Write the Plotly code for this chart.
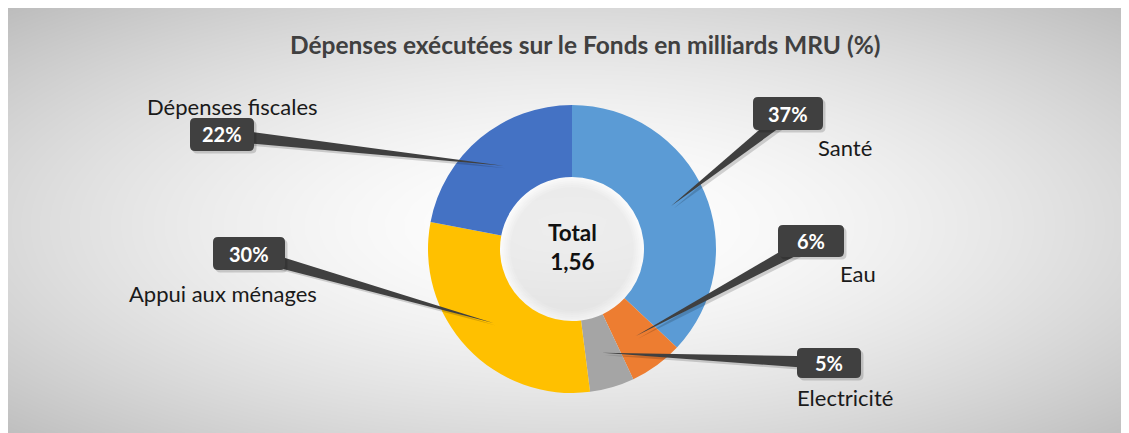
import numpy as np
import plotly.graph_objects as go

# ---------------- data ----------------
categories = ["Santé", "Eau", "Electricité", "Appui aux ménages", "Dépenses fiscales"]
shares = [37, 6, 5, 30, 22]
pct_labels = ["37%", "6%", "5%", "30%", "22%"]
total_label = "Total<br>1,56"
title_text = "Dépenses exécutées sur le Fonds en milliards MRU (%)"

# ---------------- style / layout ----------------
colors = ["#5B9BD5", "#ED7D31", "#A5A5A5", "#FFC000", "#4472C4"]
OFF = 8                      # page body margin of the html
W, H = 1129 - OFF, 433 - OFF
CX, CY, R = 572, 249, 144    # page-pixel geometry of the donut
HOLE = 0.5
FONT = "Lato"
DARK = "#404040"

# callout boxes (page pixel x0, y0, x1, y1) and category label centres
boxes = [(753, 97, 823, 130), (778, 225, 844, 257), (797, 348, 861, 378),
         (213, 237, 285, 270), (190, 118, 254, 151)]
name_pos = [(845, 148), (858, 273), (845, 397), (223, 293), (232, 107)]


def px(x):
    return (x - OFF) / W


def py(y):
    return 1 - (y - OFF) / H


def rrect(x0, y0, x1, y1, r=5):
    pts = [
        f"M{px(x0 + r)},{py(y0)}", f"L{px(x1 - r)},{py(y0)}",
        f"Q{px(x1)},{py(y0)} {px(x1)},{py(y0 + r)}", f"L{px(x1)},{py(y1 - r)}",
        f"Q{px(x1)},{py(y1)} {px(x1 - r)},{py(y1)}", f"L{px(x0 + r)},{py(y1)}",
        f"Q{px(x0)},{py(y1)} {px(x0)},{py(y1 - r)}", f"L{px(x0)},{py(y0 + r)}",
        f"Q{px(x0)},{py(y0)} {px(x0 + r)},{py(y0)}", "Z",
    ]
    return " ".join(pts)


fig = go.Figure()

# background radial gradient panel
gx = np.linspace(OFF, 1129 + 12, 74)
gy = np.linspace(OFF, 433 + 12, 32)
XX, YY = np.meshgrid(gx, gy)
t = np.sqrt(((XX - 572) / 565) ** 2 + ((YY - 225) / 215) ** 2) / np.sqrt(2)
zz = np.clip(t, 0, 1.05) ** 1.6
fig.add_trace(go.Heatmap(x=gx, y=gy, z=zz, zmin=0, zmax=1, zsmooth="best",
                         colorscale=[[0, "#ffffff"], [1, "#bdbdbd"]],
                         showscale=False, hoverinfo="skip"))

# donut
fig.add_trace(go.Pie(
    labels=categories, values=shares, hole=HOLE, sort=False,
    direction="clockwise", rotation=0,
    marker=dict(colors=colors, line=dict(width=0)),
    textinfo="none", hoverinfo="label+percent", showlegend=False,
    domain=dict(x=[px(CX - R), px(CX + R)], y=[py(CY + R), py(CY - R)]),
))

shapes = []
annotations = []

# soft inner shadow in the hole
for k in range(6):
    rr = R * HOLE - k * 2.0
    shapes.append(dict(type="circle", xref="paper", yref="paper", layer="above",
                       x0=px(CX - rr), x1=px(CX + rr), y0=py(CY + rr), y1=py(CY - rr),
                       fillcolor="rgba(0,0,0,0.012)", line=dict(width=0)))

# callouts
total = sum(shares)
cum = 0
rm = R * (1 + HOLE) / 2
for i, v in enumerate(shares):
    mid = (cum + v / 2) / total
    cum += v
    a = 2 * np.pi * mid
    tx, ty = CX + rm * np.sin(a), CY - rm * np.cos(a)
    x0, y0, x1, y1 = boxes[i]
    bx, by = (x0 + x1) / 2, (y0 + y1) / 2
    dx, dy = tx - bx, ty - by
    L = np.hypot(dx, dy)
    nx, ny = -dy / L * 6.5, dx / L * 6.5
    for off, col in [(2.5, "rgba(0,0,0,0.16)"), (0, DARK)]:
        path = (f"M{px(bx + nx + off)},{py(by + ny + off)} L{px(tx + off)},{py(ty + off)} "
                f"L{px(bx - nx + off)},{py(by - ny + off)} Z")
        shapes.append(dict(type="path", xref="paper", yref="paper", layer="above",
                           path=path, fillcolor=col, line=dict(width=0)))
    shapes.append(dict(type="path", xref="paper", yref="paper", layer="above",
                       path=rrect(x0 + 2.5, y0 + 2.5, x1 + 2.5, y1 + 2.5),
                       fillcolor="rgba(0,0,0,0.16)", line=dict(width=0)))
    shapes.append(dict(type="path", xref="paper", yref="paper", layer="above",
                       path=rrect(x0, y0, x1, y1), fillcolor=DARK, line=dict(width=0)))
    annotations.append(dict(x=px(bx), y=py(by), xref="paper", yref="paper",
                            text=f"<b>{pct_labels[i]}</b>", showarrow=False,
                            font=dict(family=FONT, size=20, color="white"),
                            xanchor="center", yanchor="middle"))
    nxp, nyp = name_pos[i]
    annotations.append(dict(x=px(nxp), y=py(nyp), xref="paper", yref="paper",
                            text=categories[i], showarrow=False,
                            font=dict(family=FONT, size=22, color="#1a1a1a"),
                            xanchor="center", yanchor="middle"))

# centre total
annotations.append(dict(x=px(CX), y=py(CY - 2), xref="paper", yref="paper",
                        text=f"<b>{total_label}</b>", showarrow=False,
                        font=dict(family=FONT, size=22.5, color="#111111"),
                        xanchor="center", yanchor="middle", align="center"))

# title
annotations.append(dict(x=px(CX + 13), y=py(45), xref="paper", yref="paper",
                        text=f"<b>{title_text}</b>", showarrow=False,
                        font=dict(family=FONT, size=24.5, color="#404040"),
                        xanchor="center", yanchor="middle"))

fig.update_layout(
    width=W, height=H, margin=dict(l=0, r=0, t=0, b=0),
    paper_bgcolor="#c0c0c0", plot_bgcolor="rgba(0,0,0,0)",
    xaxis=dict(range=[OFF, 1129], domain=[0, 1], visible=False, fixedrange=True),
    yaxis=dict(range=[433, OFF], domain=[0, 1], visible=False, fixedrange=True),
    shapes=shapes, annotations=annotations, showlegend=False,
)

fig.write_html(
    "out.html",
    post_script="document.documentElement.style.overflow='hidden';"
                "document.body.style.overflow='hidden';",
)
